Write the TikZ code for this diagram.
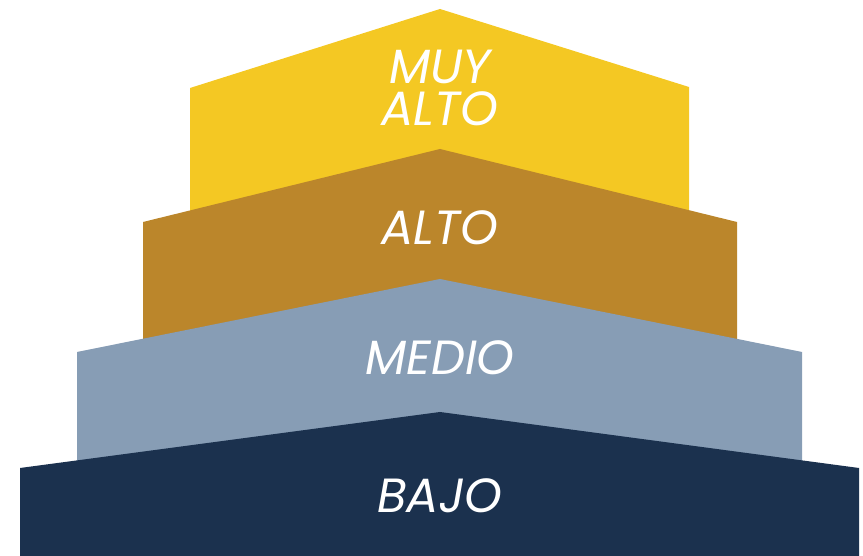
\documentclass[tikz,border=0pt]{standalone}
\usepackage{fontspec}
\setmainfont{Poppins}
\definecolor{muyalto}{HTML}{F4C823}
\definecolor{alto}{HTML}{BB862B}
\definecolor{medio}{HTML}{879DB5}
\definecolor{bajo}{HTML}{1B314E}
\begin{document}
\begin{tikzpicture}[x=1pt,y=1pt,
    nivel/.style={text=white,inner sep=0pt,align=center,
      font=\fontsize{48}{42}\selectfont\itshape}]
    \useasboundingbox (0,0) rectangle (863,556);
    \newcommand{\mitad}{440}
    \fill[muyalto] (190,0) -- (190,468) -- (\mitad,547) -- (689,469) -- (689,0) -- cycle;
    \fill[alto] (143,0) -- (143,334) -- (\mitad,407) -- (737,334) -- (737,0) -- cycle;
    \fill[medio] (77,0) -- (77,204) -- (\mitad,277) -- (802,204) -- (802,0) -- cycle;
    \fill[bajo] (20,0) -- (20,88) -- (\mitad,144) -- (859,88) -- (859,0) -- cycle;
    \node[nivel] (muyaltotxt) at (\mitad,468) {MUY\\ALTO};
    \node[nivel,anchor=base] (altotxt) at (\mitad,311) {ALTO};
    \node[nivel,anchor=base] (mediotxt) at (\mitad,181) {MEDIO};
    \node[nivel,anchor=base] (bajotxt) at (\mitad,43) {BAJO};
\end{tikzpicture}
\end{document}
